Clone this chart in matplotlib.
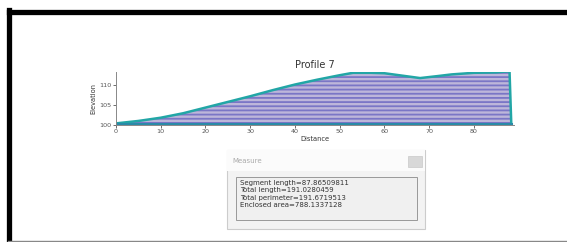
import matplotlib
matplotlib.use('Agg')
import matplotlib.pyplot as plt
from matplotlib.patches import Rectangle
from matplotlib.lines import Line2D

# profile
distance = [0, 5, 10, 15, 20, 25, 30, 35, 40, 45, 50, 53, 57, 60, 64, 68, 72, 75, 80, 85, 88]
elevation = [100.4, 101.0, 101.8, 102.9, 104.3, 105.7, 107.1, 108.6, 110.0, 111.2, 112.3, 112.9,
             112.9, 112.8, 112.2, 111.6, 112.1, 112.5, 112.9, 113.0, 113.3]
x_ticks = [0, 10, 20, 30, 40, 50, 60, 70, 80]
y_ticks = [100, 105, 110]
measure_lines = ["Segment length=87.86509811",
                 "Total length=191.0280459",
                 "Total perimeter=191.6719513",
                 "Enclosed area=788.1337128"]

W, H = 567, 242
plt.rcParams['hatch.linewidth'] = 1.3
plt.rcParams['hatch.color'] = '#7a76c6'

fig = plt.figure(figsize=(W / 100, H / 100), dpi=100)


def box(x0, y0, x1, y1, **kw):
    # pixel box (top-left origin) -> figure fraction
    r = Rectangle((x0 / W, 1 - y1 / H), (x1 - x0) / W, (y1 - y0) / H,
                  transform=fig.transFigure, **kw)
    fig.add_artist(r)
    return r


def fline(x0, y0, x1, y1, **kw):
    fig.add_artist(Line2D([x0 / W, x1 / W], [1 - y0 / H, 1 - y1 / H], transform=fig.transFigure, **kw))


def ftext(x, y, s, **kw):
    fig.text(x / W, 1 - y / H, s, **kw)


# outer frame: thick black left/top, thin grey bottom
fline(8.5, 12, 567, 12, color='black', linewidth=3.8)
fline(8.5, 10, 8.5, 241, color='black', linewidth=3.8)
fline(8, 240.5, 567, 240.5, color='#888888', linewidth=1.0)

ax = fig.add_axes([116 / W, 117 / H, 398 / W, 53 / H])
xs = distance + [distance[-1] + 0.4, distance[-1] + 0.4]
ys = elevation + [100, 100]
ax.fill_between(xs, 100, ys, facecolor='#bdb6da', hatch='----', edgecolor='#7a76c6', linewidth=0)
ax.plot(xs, ys, color='#22a6a6', linewidth=1.8, solid_joinstyle='round')
ax.plot([0, xs[-1]], [100.15, 100.15], color='#2a8aa8', linewidth=2.2)
ax.set_xlim(0, 89)
ax.set_ylim(100, 113.1)
ax.set_xticks(x_ticks)
ax.set_yticks(y_ticks)
ax.tick_params(labelsize=4.6, length=2, width=0.6, pad=1, colors='#555555')
for s in ['top', 'right']:
    ax.spines[s].set_visible(False)
for s in ['left', 'bottom']:
    ax.spines[s].set_color('#888888')
    ax.spines[s].set_linewidth(0.7)
ax.set_title('Profile 7', fontsize=7, color='#333333', pad=3)
ax.set_xlabel('Distance', fontsize=4.8, color='#333333', labelpad=1)
ax.set_ylabel('Elevation', fontsize=4.8, color='#333333', labelpad=2)

# measure dialog
box(227, 150, 425, 229, facecolor='#f3f3f3', edgecolor='#cccccc', linewidth=0.8)
box(227, 150, 425, 171, facecolor='#fbfbfb', edgecolor='none')
ftext(232, 161, 'Measure', fontsize=5, color='#aaaaaa', va='center')
box(408, 156, 422, 167, facecolor='#d8d8d8', edgecolor='#c8c8c8', linewidth=0.5)
box(236, 177, 417, 220, facecolor='#f0f0f0', edgecolor='#999999', linewidth=0.7)
for i, line in enumerate(measure_lines):
    ftext(240, 183 + i * 7.4, line, fontsize=5, color='#333333', va='center')

fig.savefig('out.png', dpi=100)
